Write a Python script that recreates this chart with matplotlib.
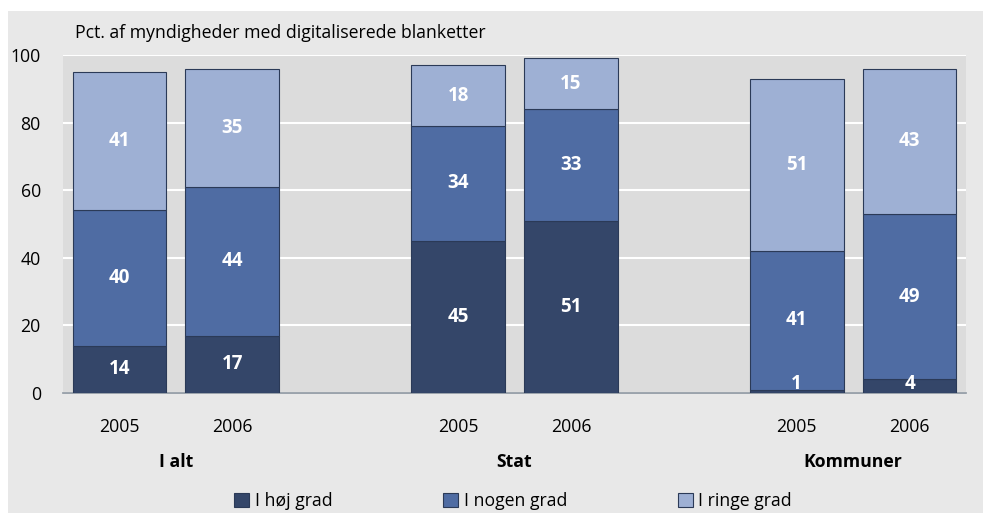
import matplotlib
matplotlib.use('Agg')
import matplotlib.pyplot as plt
from matplotlib.patches import Rectangle, Patch

# DATA
years = ['2005', '2006', '', '2005', '2006', '', '2005', '2006']
groups = ['I alt', 'Stat', 'Kommuner']
series_names = ['I høj grad', 'I nogen grad', 'I ringe grad']
hoej = [14, 17, None, 45, 51, None, 1, 4]
nogen = [40, 44, None, 34, 33, None, 41, 49]
ringe = [41, 35, None, 18, 15, None, 51, 43]

colors = ['#344669', '#4f6ca3', '#9eb0d4']
edge = '#2b3a57'
fs = 12.7

plt.rcParams['font.family'] = ['Open Sans', 'DejaVu Sans']

fig = plt.figure(figsize=(9.83, 5.13), dpi=100)
fig.patch.set_facecolor('white')
# outer grey panel
fig.patches.append(Rectangle((8/983, 0), 1, 1 - 11/513, transform=fig.transFigure,
                             facecolor='#e8e8e8', edgecolor='none', zorder=-5))

ax = fig.add_axes([63/983, 1 - 393/513, 903/983, 338/513])
ax.set_facecolor('#dcdcdc')
ax.set_zorder(2)

xs = [i for i, v in enumerate(hoej) if v is not None]
bottom = [0] * len(xs)
for name, vals, col in zip(series_names, [hoej, nogen, ringe], colors):
    v = [vals[i] for i in xs]
    ax.bar(xs, v, width=0.83, bottom=bottom, color=col, edgecolor=edge,
           linewidth=0.8, zorder=3, label=name)
    for x, b, h in zip(xs, bottom, v):
        if h < 8:
            ax.text(x, b - 0.3, str(h), ha='center', va='bottom', color='white',
                    fontsize=13.5, fontweight='bold', zorder=4)
        else:
            ax.text(x, b + h / 2, str(h), ha='center', va='center', color='white',
                    fontsize=13.5, fontweight='bold', zorder=4)
    bottom = [b + h for b, h in zip(bottom, v)]

ax.set_xlim(-0.5, 7.5)
ax.set_ylim(0, 100)
ax.set_yticks([0, 20, 40, 60, 80, 100])
ax.yaxis.grid(True, color='white', linewidth=1.5, zorder=1)
ax.set_axisbelow(True)
for s in ['top', 'right', 'left']:
    ax.spines[s].set_visible(False)
ax.spines['bottom'].set_color('#8c96a0')
ax.spines['bottom'].set_linewidth(1.2)
ax.tick_params(axis='y', length=0, labelsize=fs, pad=16)
ax.tick_params(axis='x', length=0, labelsize=fs, pad=18)
ax.set_xticks(range(8))
ax.set_xticklabels(years)

for g, cx in zip(groups, [0.5, 3.5, 6.5]):
    ax.text(cx, -20.5, g, ha='center', va='center', fontsize=fs, fontweight='bold')

ax.text(75/983, 1 - 33/513, 'Pct. af myndigheder med digitaliserede blanketter',
        transform=fig.transFigure, ha='left', va='center', fontsize=fs)

handles = [Patch(facecolor=c, edgecolor=edge, linewidth=0.8) for c in colors]
fig.legend(handles, series_names, loc='center', bbox_to_anchor=(0.522, 1 - 501/513),
           ncol=3, frameon=False, fontsize=fs, handlelength=0.85, handleheight=0.85,
           handletextpad=0.3, columnspacing=6.3)

fig.savefig('out.png', dpi=100)
